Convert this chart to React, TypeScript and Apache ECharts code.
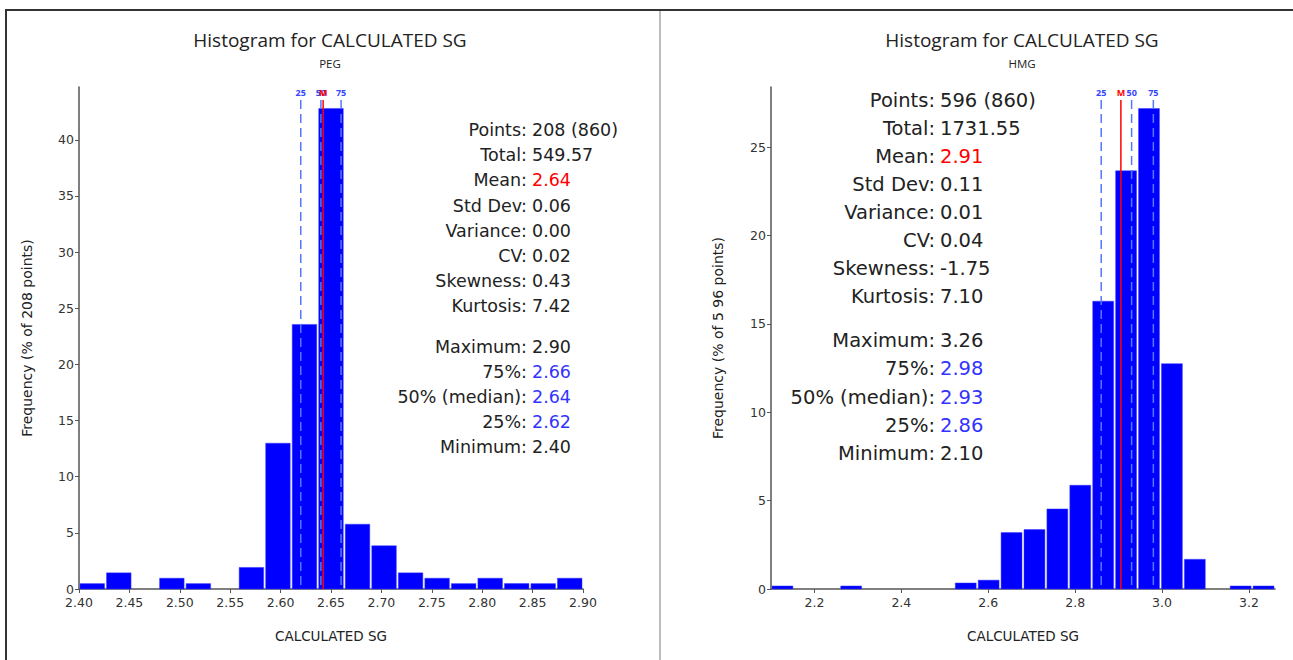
import React, { useEffect, useRef } from "react";
import * as echarts from "echarts";

// ---------- PEG panel data ----------
const pegRange = [2.4, 2.9];
const pegPercent = [0.48, 1.44, 0, 0.96, 0.48, 0, 1.92, 12.98, 23.56, 42.79, 5.77, 3.85, 1.44, 0.96, 0.48, 0.96, 0.48, 0.48, 0.96];
const pegXTicks = [2.4, 2.45, 2.5, 2.55, 2.6, 2.65, 2.7, 2.75, 2.8, 2.85, 2.9];
const pegYTicks = [0, 5, 10, 15, 20, 25, 30, 35, 40];
const pegMarkerLabels = ["25", "50", "M", "75"];
const pegMarkerValues = [2.62, 2.64, 2.6422, 2.66];
const pegStatLabels = ["Points:", "Total:", "Mean:", "Std Dev:", "Variance:", "CV:", "Skewness:", "Kurtosis:", "Maximum:", "75%:", "50% (median):", "25%:", "Minimum:"];
const pegStatValues = ["208 (860)", "549.57", "2.64", "0.06", "0.00", "0.02", "0.43", "7.42", "2.90", "2.66", "2.64", "2.62", "2.40"];

// ---------- HMG panel data ----------
const hmgRange = [2.1, 3.26];
const hmgPercent = [0.17, 0, 0, 0.17, 0, 0, 0, 0, 0.34, 0.5, 3.19, 3.36, 4.53, 5.87, 16.28, 23.66, 27.18, 12.75, 1.68, 0, 0.17, 0.17];
const hmgXTicks = [2.2, 2.4, 2.6, 2.8, 3.0, 3.2];
const hmgYTicks = [0, 5, 10, 15, 20, 25];
const hmgMarkerLabels = ["25", "M", "50", "75"];
const hmgMarkerValues = [2.86, 2.9053, 2.93, 2.98];
const hmgStatLabels = ["Points:", "Total:", "Mean:", "Std Dev:", "Variance:", "CV:", "Skewness:", "Kurtosis:", "Maximum:", "75%:", "50% (median):", "25%:", "Minimum:"];
const hmgStatValues = ["596 (860)", "1731.55", "2.91", "0.11", "0.01", "0.04", "-1.75", "7.10", "3.26", "2.98", "2.93", "2.86", "2.10"];

const statColors = ["#222", "#222", "#ff0000", "#222", "#222", "#222", "#222", "#222", "#222", "#3333ff", "#3333ff", "#3333ff", "#222"];

const FONT = "DejaVu Sans";
const TFONT = "Open Sans";
const BLUE = "#0000ff";

function binData(range: number[], values: number[]) {
  const w = (range[1] - range[0]) / values.length;
  return values.map((v, i) => [range[0] + i * w, range[0] + (i + 1) * w, v]);
}

function makeAxes(gridIndex: number, range: number[], xTicks: number[], yTicks: number[], yMax: number, yName: string, decimals: number, yNameGap: number) {
  const axisLine = { show: true, lineStyle: { color: "#555", width: 1.5 } };
  const xAxis = {
    type: "value",
    gridIndex,
    min: range[0],
    max: range[1],
    name: "CALCULATED SG",
    nameLocation: "middle",
    nameGap: 40,
    nameTextStyle: { fontFamily: FONT, fontSize: 13.5, color: "#222" },
    axisLine,
    axisTick: { show: true, length: 4, lineStyle: { color: "#555" }, customValues: xTicks },
    axisLabel: { customValues: xTicks, formatter: (v: number) => v.toFixed(decimals), fontFamily: FONT, fontSize: 12.5, color: "#333", margin: 7 },
    splitLine: { show: false },
  };
  const yAxis = {
    type: "value",
    gridIndex,
    min: 0,
    max: yMax,
    name: yName,
    nameLocation: "middle",
    nameGap: yNameGap,
    nameTextStyle: { fontFamily: FONT, fontSize: 14, color: "#222" },
    axisLine,
    axisTick: { show: true, length: 4, lineStyle: { color: "#555" }, customValues: yTicks },
    axisLabel: { customValues: yTicks, fontFamily: FONT, fontSize: 12.5, color: "#333", margin: 5 },
    splitLine: { show: false },
  };
  return { xAxis, yAxis };
}

function barSeries(idx: number, data: number[][]) {
  return {
    type: "custom",
    xAxisIndex: idx,
    yAxisIndex: idx,
    data,
    z: 2,
    renderItem: (params: any, api: any) => {
      const s = api.value(0);
      const e = api.value(1);
      const v = api.value(2);
      if (v <= 0) return null;
      const p0 = api.coord([s, v]);
      const p1 = api.coord([e, 0]);
      return {
        type: "rect",
        shape: { x: p0[0] + 1, y: p0[1], width: p1[0] - p0[0] - 2, height: p1[1] - p0[1] },
        style: { fill: BLUE, stroke: "#3a3aff", lineWidth: 0.5 },
      };
    },
  };
}

function markerSeries(idx: number, values: number[], labels: string[], top: number) {
  return {
    type: "custom",
    xAxisIndex: idx,
    yAxisIndex: idx,
    data: values.map((v) => [v, top]),
    z: 5,
    clip: false,
    renderItem: (params: any, api: any) => {
      const x = api.value(0);
      const t = api.value(1);
      const label = labels[params.dataIndex];
      const isMean = label === "M";
      const pTop = api.coord([x, t]);
      const pBot = api.coord([x, 0]);
      return {
        type: "group",
        children: [
          {
            type: "line",
            shape: { x1: pTop[0], y1: pTop[1], x2: pBot[0], y2: pBot[1] },
            style: isMean
              ? { stroke: "#ff0000", lineWidth: 1.5 }
              : { stroke: "#5577ff", lineWidth: 1.5, lineDash: [9, 5] },
          },
          {
            type: "text",
            x: pTop[0],
            y: pTop[1] - 3,
            style: {
              text: label,
              fill: isMean ? "#ff0000" : "#3344ff",
              font: `bold 9px ${TFONT}`,
              align: "center",
              verticalAlign: "bottom",
            },
          },
        ],
      };
    },
  };
}

function statTexts(labels: string[], values: string[], colonX: number, y0: number, step: number, gapAfter: number, extraGap: number, size: number) {
  const out: any[] = [];
  labels.forEach((l, i) => {
    const y = y0 + i * step + (i >= gapAfter ? extraGap : 0);
    out.push({
      type: "text",
      x: colonX,
      y,
      style: { text: l, fill: "#222", font: `${size}px ${FONT}`, align: "right", verticalAlign: "middle" },
    });
    out.push({
      type: "text",
      x: colonX + 5,
      y,
      style: { text: values[i], fill: statColors[i], font: `${size}px ${FONT}`, align: "left", verticalAlign: "middle" },
    });
  });
  return out;
}

export default function App() {
  const ref = useRef<HTMLDivElement>(null);
  useEffect(() => {
    if (!ref.current) return;
    const chart = echarts.init(ref.current, undefined, { renderer: "svg" });
    const a0 = makeAxes(0, pegRange, pegXTicks, pegYTicks, 44.7, "Frequency (% of 208 points)", 2, 45);
    const a1 = makeAxes(1, hmgRange, hmgXTicks, hmgYTicks, 28.4, "Frequency (% of 5 96 points)", 1, 46);
    chart.setOption({
      animation: false,
      backgroundColor: "#ffffff",
      grid: [
        { left: 79, top: 87, width: 504, height: 502 },
        { left: 771, top: 87, width: 504, height: 502 },
      ],
      xAxis: [a0.xAxis, a1.xAxis],
      yAxis: [a0.yAxis, a1.yAxis],
      series: [
        barSeries(0, binData(pegRange, pegPercent)),
        markerSeries(0, pegMarkerValues, pegMarkerLabels, 43.55),
        barSeries(1, binData(hmgRange, hmgPercent)),
        markerSeries(1, hmgMarkerValues, hmgMarkerLabels, 27.67),
      ],
      graphic: [
        { type: "line", shape: { x1: 5, y1: 10, x2: 1293, y2: 10 }, style: { stroke: "#333", lineWidth: 2 } },
        { type: "line", shape: { x1: 6, y1: 10, x2: 6, y2: 660 }, style: { stroke: "#333", lineWidth: 2 } },
        { type: "line", shape: { x1: 660, y1: 11, x2: 660, y2: 660 }, style: { stroke: "#bbbbbb", lineWidth: 2 } },
        { type: "text", x: 330, y: 40, style: { text: "Histogram for CALCULATED SG", fill: "#222", font: `19px ${TFONT}`, align: "center", verticalAlign: "middle" } },
        { type: "text", x: 330, y: 63, style: { text: "PEG", fill: "#222", font: `11.5px ${TFONT}`, align: "center", verticalAlign: "middle" } },
        { type: "text", x: 1022, y: 40, style: { text: "Histogram for CALCULATED SG", fill: "#222", font: `19px ${TFONT}`, align: "center", verticalAlign: "middle" } },
        { type: "text", x: 1022, y: 63, style: { text: "HMG", fill: "#222", font: `11.5px ${TFONT}`, align: "center", verticalAlign: "middle" } },
        ...statTexts(pegStatLabels, pegStatValues, 527, 130, 25.2, 8, 15, 17.5),
        ...statTexts(hmgStatLabels, hmgStatValues, 935, 100, 28.1, 8, 16, 19.5),
      ],
    });
    return () => chart.dispose();
  }, []);
  return <div ref={ref} style={{ position: "fixed", left: 0, top: 0, width: 1293, height: 660 }} />;
}
